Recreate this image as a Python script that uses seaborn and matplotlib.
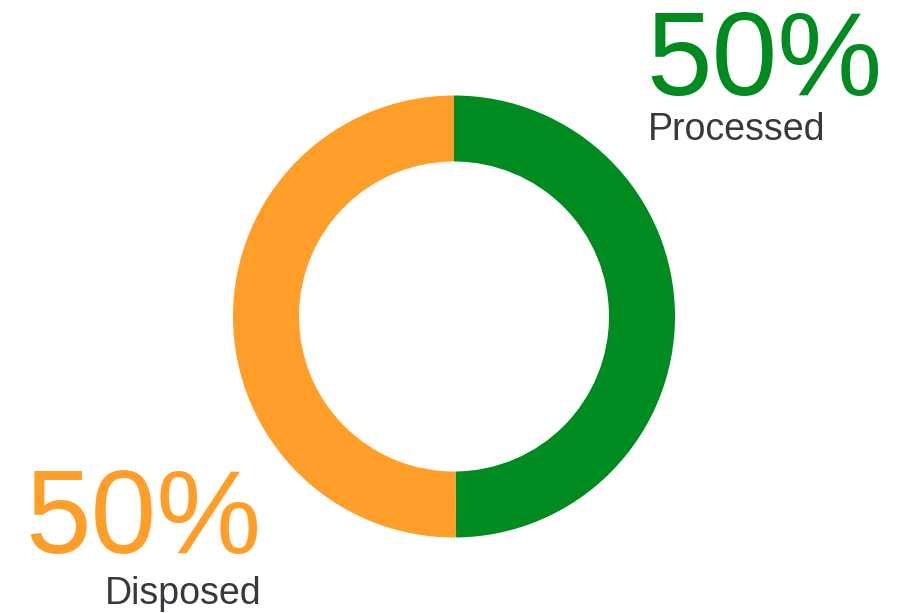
import matplotlib
matplotlib.use("Agg")
import matplotlib.pyplot as plt
import seaborn as sns

labels = ["Processed", "Disposed"]
values = [49.85, 50.15]
pct_labels = ["50%", "50%"]
colors = ["#008B20", "#FF9F29"]

sns.set_theme(style="white")
plt.rcParams['font.family'] = ['Liberation Sans', 'DejaVu Sans']

W, H = 907, 613
fig = plt.figure(figsize=(W / 100, H / 100), dpi=100)
ax = fig.add_axes([0, 0, 1, 1])
ax.set_xlim(0, W)
ax.set_ylim(0, H)
ax.set_axis_off()

ax.pie(values, colors=colors, startangle=90, counterclock=False,
       center=(454, H - 316.5), radius=221,
       wedgeprops=dict(width=66, linewidth=0))
ax.set_xlim(0, W)
ax.set_ylim(0, H)
ax.set_aspect('auto')

text_color = "#363A3F"
ax.text(646, H - 95, pct_labels[0], color=colors[0], fontsize=85,
        ha='left', va='baseline')
ax.text(648, H - 140, labels[0], color=text_color, fontsize=27,
        ha='left', va='baseline')
ax.text(25, H - 553, pct_labels[1], color=colors[1], fontsize=85,
        ha='left', va='baseline')
ax.text(105, H - 604, labels[1], color=text_color, fontsize=27,
        ha='left', va='baseline')

fig.savefig("out.png", dpi=100, facecolor="white")
